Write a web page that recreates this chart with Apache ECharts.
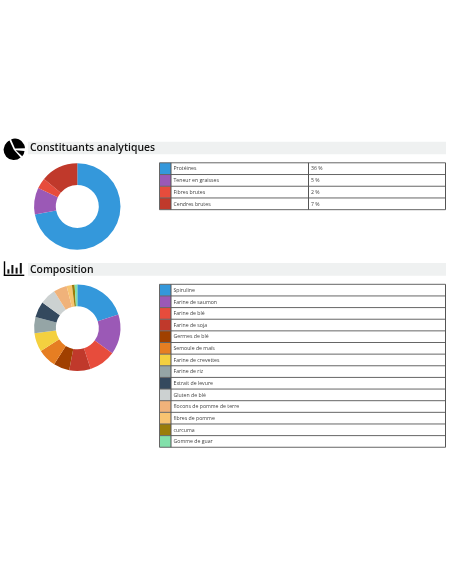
<!DOCTYPE html>
<html>
<head>
<meta charset="utf-8">
<style>html,body{margin:0;padding:0;background:#fff}#c{width:452px;height:584px}</style>
<script src="https://cdn.jsdelivr.net/npm/echarts@6/dist/echarts.min.js"></script>
</head>
<body>
<div id="c"></div>
<script>
var title1 = "Constituants analytiques";
var title2 = "Composition";
var labels1 = ["Protéines", "Teneur en graisses", "Fibres brutes", "Cendres brutes"];
var values1 = [36, 5, 2, 7];
var colors1 = ["#3498db", "#9b59b6", "#e74c3c", "#c0392b"];
var labels2 = ["Spiruline", "Farine de saumon", "Farine de blé", "Farine de soja", "Germes de blé", "Semoule de maïs", "Farine de crevettes", "Farine de riz", "Extrait de levure", "Gluten de blé", "flocons de pomme de terre", "fibres de pomme", "curcuma", "Gomme de guar"];
var values2 = [20, 15, 10, 8, 6, 7, 7, 6, 6, 6, 5, 2, 1, 1];
var colors2 = ["#3498db", "#9b59b6", "#e74c3c", "#c0392b", "#a04000", "#e67e22", "#f4d03f", "#95a5a6", "#34495e", "#ccd1d1", "#f0b27a", "#f8c471", "#9a7d0a", "#82e0aa"];

var font = "'Open Sans', sans-serif";
var els = [];
function rect(x, y, w, h, fill) { els.push({type: "rect", silent: true, shape: {x: x, y: y, width: w, height: h}, style: {fill: fill}}); }
function line(x1, y1, x2, y2, c) { els.push({type: "line", silent: true, shape: {x1: x1, y1: y1, x2: x2, y2: y2}, style: {stroke: c, lineWidth: 1}}); }
function text(x, y, s, size, weight, c) { els.push({type: "text", silent: true, x: x, y: y, style: {text: s, fontFamily: font, fontSize: size, fontWeight: weight, fill: c, verticalAlign: "middle", align: "left"}}); }
function wedge(cx, cy, r, a0, a1) { els.push({type: "sector", silent: true, shape: {cx: cx, cy: cy, r0: 0, r: r, startAngle: a0 * Math.PI / 180, endAngle: a1 * Math.PI / 180, clockwise: true}, style: {fill: "#000"}}); }

function band(y, h, s) {
  rect(28, y, 418, h, "#eff1f1");
  text(30, y + h / 2 + 0.5, s, 10.4, 600, "#111");
}
function table(top, rowH, labels, colors, values) {
  var L = 159.5, S = 171, R = 445.5, M = 308.5;
  labels.forEach(function (lab, i) {
    var y = top + i * rowH;
    rect(L, y, S - L, rowH, colors[i]);
    text(S + 2.5, y + rowH / 2 + 0.3, lab, 5.2, 400, "#444");
    if (values) text(M + 2.5, y + rowH / 2 + 0.3, values[i] + " %", 5.2, 400, "#444");
  });
  var bottom = top + labels.length * rowH;
  for (var i = 0; i <= labels.length; i++) {
    var yy = top + i * rowH;
    line(L, yy, R, yy, "#666");
  }
  line(L, top, L, bottom, "#666");
  line(S, top, S, bottom, "#555");
  line(R, top, R, bottom, "#555");
  if (values) line(M, top, M, bottom, "#555");
}

band(141.7, 12.5, title1);
band(263, 12.7, title2);
table(162.8, 11.72, labels1, colors1, values1);
table(284.3, 11.64, labels2, colors2, null);

// pie icon
wedge(13.8, 149.8, 10.2, 48, 245);
wedge(15, 148.6, 10, -113, -2);
wedge(15.7, 150.3, 8.8, 4, 42);

// bars icon
rect(3.8, 261.3, 1.4, 14.5, "#000");
rect(3.8, 274.6, 20.5, 1.4, "#000");
rect(7.4, 269.3, 2, 4.3, "#111");
rect(11.4, 265, 2, 8.6, "#111");
rect(15.6, 267.7, 2, 5.9, "#111");
rect(19.8, 263, 2, 10.6, "#111");

function pieSeries(labels, values, colors, cy) {
  return {
    type: "pie", silent: true, center: [77.3, cy], radius: [21.5, 43.2], startAngle: 90, clockwise: true,
    label: {show: false}, labelLine: {show: false}, animation: false,
    itemStyle: {borderWidth: 0},
    data: labels.map(function (n, i) { return {name: n, value: values[i], itemStyle: {color: colors[i]}}; })
  };
}
var chart = echarts.init(document.getElementById("c"), null, {renderer: "canvas"});
chart.setOption({
  animation: false,
  backgroundColor: "#fff",
  series: [pieSeries(labels1, values1, colors1, 206.5), pieSeries(labels2, values2, colors2, 327.8)],
  graphic: {elements: els}
});
</script>
</body>
</html>
